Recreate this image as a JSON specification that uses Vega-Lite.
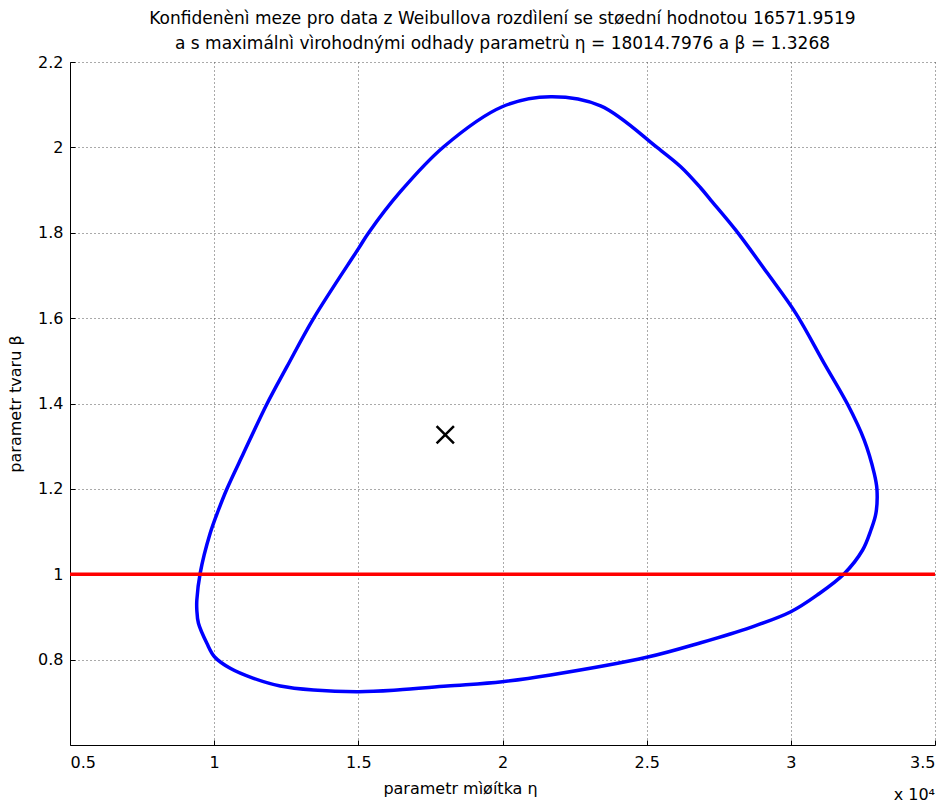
{
  "$schema": "https://vega.github.io/schema/vega-lite/v6.json",
  "width": 865,
  "height": 683,
  "autosize": {"type": "none"},
  "padding": {"left": 70, "top": 62, "right": 17, "bottom": 59},
  "background": "white",
  "title": {
    "text": ["Konfidenènì meze pro data z Weibullova rozdìlení se støední hodnotou 16571.9519", "a s maximálnì vìrohodnými odhady parametrù η = 18014.7976 a β = 1.3268"],
    "font": "DejaVu Sans",
    "fontSize": 17,
    "fontWeight": "normal",
    "color": "black",
    "lineHeight": 25,
    "anchor": "middle",
    "offset": 1
  },
  "config": {
    "view": {"stroke": null},
    "font": "DejaVu Sans",
    "axis": {
      "domainColor": "black",
      "domainWidth": 1,
      "tickColor": "black",
      "tickSize": -5,
      "labelFont": "DejaVu Sans",
      "labelFontSize": 16,
      "labelColor": "black",
      "titleFont": "DejaVu Sans",
      "titleFontSize": 16,
      "titleFontWeight": "normal",
      "titleColor": "black",
      "grid": true,
      "gridColor": "#555555",
      "gridDash": [1, 3],
      "gridWidth": 1
    }
  },
  "datasets": {
    "contour": [
      {"i": 1, "eta": 9514, "beta": 1.0022},
      {"i": 2, "eta": 9861, "beta": 1.0959},
      {"i": 3, "eta": 10149, "beta": 1.1505},
      {"i": 4, "eta": 10441, "beta": 1.1997},
      {"i": 5, "eta": 11017, "beta": 1.2833},
      {"i": 6, "eta": 11830, "beta": 1.3988},
      {"i": 7, "eta": 12524, "beta": 1.4862},
      {"i": 8, "eta": 13448, "beta": 1.5995},
      {"i": 9, "eta": 15010, "beta": 1.7635},
      {"i": 10, "eta": 15358, "beta": 1.8001},
      {"i": 11, "eta": 16458, "beta": 1.8961},
      {"i": 13, "eta": 17962, "beta": 2.0015},
      {"i": 14, "eta": 19990, "beta": 2.0952},
      {"i": 15, "eta": 21667, "beta": 2.1186},
      {"i": 16, "eta": 23403, "beta": 2.0972},
      {"i": 18, "eta": 25372, "beta": 1.9992},
      {"i": 19, "eta": 26181, "beta": 1.9547},
      {"i": 20, "eta": 26875, "beta": 1.9048},
      {"i": 21, "eta": 27222, "beta": 1.8767},
      {"i": 22, "eta": 28090, "beta": 1.8060},
      {"i": 23, "eta": 29191, "beta": 1.7049},
      {"i": 24, "eta": 30174, "beta": 1.6112},
      {"i": 25, "eta": 31156, "beta": 1.4941},
      {"i": 26, "eta": 31969, "beta": 1.3981},
      {"i": 27, "eta": 32545, "beta": 1.3144},
      {"i": 28, "eta": 32892, "beta": 1.2365},
      {"i": 29, "eta": 32986, "beta": 1.1997},
      {"i": 30, "eta": 32951, "beta": 1.1428},
      {"i": 31, "eta": 32778, "beta": 1.1036},
      {"i": 32, "eta": 32490, "beta": 1.0568},
      {"i": 33, "eta": 31851, "beta": 1.0013},
      {"i": 34, "eta": 30927, "beta": 0.9520},
      {"i": 35, "eta": 30000, "beta": 0.9123},
      {"i": 36, "eta": 28611, "beta": 0.8757},
      {"i": 37, "eta": 26875, "beta": 0.8396},
      {"i": 38, "eta": 25000, "beta": 0.8054},
      {"i": 39, "eta": 21667, "beta": 0.7640},
      {"i": 40, "eta": 19990, "beta": 0.7483},
      {"i": 41, "eta": 18080, "beta": 0.7382},
      {"i": 42, "eta": 16344, "beta": 0.7288},
      {"i": 43, "eta": 15010, "beta": 0.7249},
      {"i": 44, "eta": 13448, "beta": 0.7288},
      {"i": 45, "eta": 12292, "beta": 0.7382},
      {"i": 46, "eta": 11365, "beta": 0.7562},
      {"i": 47, "eta": 10556, "beta": 0.7797},
      {"i": 48, "eta": 10010, "beta": 0.8068},
      {"i": 49, "eta": 9747, "beta": 0.8382},
      {"i": 50, "eta": 9455, "beta": 0.8851},
      {"i": 51, "eta": 9399, "beta": 0.9162},
      {"i": 52, "eta": 9399, "beta": 0.9397}
    ],
    "mle": [{"eta": 18014.7976, "beta": 1.3268}],
    "ref": [{"beta": 1}],
    "note": [{"eta": 35000, "beta": 0.6, "label": "x 10⁴"}]
  },
  "layer": [
    {
      "data": {"name": "contour"},
      "mark": {"type": "line", "color": "#0000ff", "strokeWidth": 3.5, "interpolate": "catmull-rom-closed"},
      "encoding": {
        "x": {
          "field": "eta", "type": "quantitative",
          "scale": {"domain": [5000, 35000], "nice": false, "zero": false},
          "axis": {
            "values": [5000, 10000, 15000, 20000, 25000, 30000, 35000],
            "labelExpr": "format(datum.value / 10000, '~g')",
            "labelPadding": 14,
            "title": "parametr mìøítka η",
            "titlePadding": 10,
            "titleX": 390
          }
        },
        "y": {
          "field": "beta", "type": "quantitative",
          "scale": {"domain": [0.6, 2.2], "nice": false, "zero": false},
          "axis": {
            "values": [0.8, 1, 1.2, 1.4, 1.6, 1.8, 2, 2.2],
            "format": "~g",
            "labelPadding": 12,
            "title": "parametr tvaru β",
            "titlePadding": 14
          }
        },
        "order": {"field": "i", "type": "quantitative"}
      }
    },
    {
      "data": {"name": "ref"},
      "mark": {"type": "rule", "color": "#ff0000", "strokeWidth": 3.5},
      "encoding": {"y": {"field": "beta", "type": "quantitative"}}
    },
    {
      "data": {"name": "mle"},
      "mark": {"type": "point", "shape": "M-1,-1L1,1M-1,1L1,-1", "filled": false, "stroke": "black", "strokeWidth": 2.5, "size": 300, "opacity": 1},
      "encoding": {
        "x": {"field": "eta", "type": "quantitative"},
        "y": {"field": "beta", "type": "quantitative"}
      }
    },
    {
      "data": {"name": "note"},
      "mark": {"type": "text", "align": "right", "baseline": "middle", "dy": 50, "fontSize": 16, "font": "DejaVu Sans", "color": "black"},
      "encoding": {
        "x": {"field": "eta", "type": "quantitative"},
        "y": {"field": "beta", "type": "quantitative"},
        "text": {"field": "label"}
      }
    }
  ]
}
